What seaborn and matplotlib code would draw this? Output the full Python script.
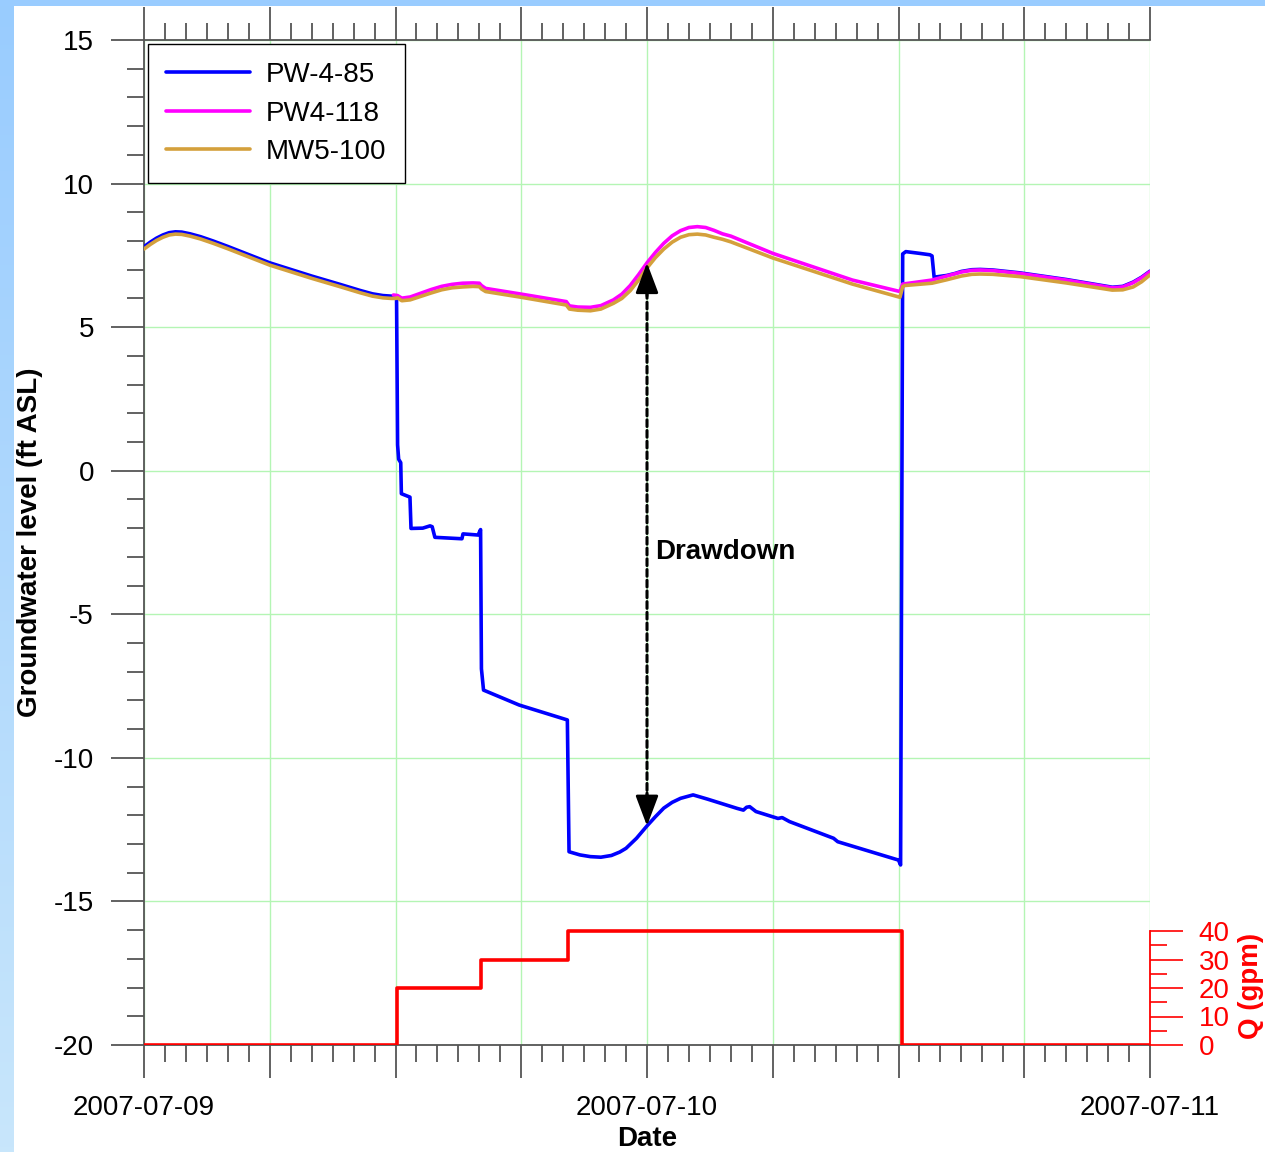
import numpy as np
import pandas as pd
import matplotlib
matplotlib.use("Agg")
import matplotlib.pyplot as plt
import matplotlib.dates as mdates
from matplotlib.ticker import MultipleLocator, FuncFormatter
from matplotlib.patches import Rectangle
import seaborn as sns

# ---------------- data (hours after 2007-07-09 00:00) ----------------
pw485_hours = [0, 0.3, 0.6, 0.9, 1.2, 1.5, 1.8, 2.2, 2.7, 3.3, 4.0, 6.0, 8.0, 9.35, 10.3, 10.9,
               11.4, 11.8, 12.0, 12.05, 12.10, 12.15,
               12.25, 12.28, 12.69, 12.74, 13.3, 13.65, 13.75, 13.88, 15.17, 15.22, 15.94,
               16.06, 16.10, 16.20, 17.9, 20.2, 20.28, 20.8, 21.3, 21.8, 22.3, 22.7, 23.0, 23.5,
               24.0, 24.4, 24.8, 25.2, 25.6, 26.2, 26.9, 28.3, 28.6, 28.75, 28.9, 29.2, 30.25,
               30.45, 30.8, 32.9, 33.1, 36.0, 36.1, 36.2, 36.35, 37.0, 37.5, 37.6, 37.7, 38.3,
               38.7, 39.0, 39.5, 39.9, 40.5, 41.8, 44.0, 46.2, 46.7, 47.2, 47.6, 48.0]
pw485_level = [7.80, 7.96, 8.10, 8.21, 8.29, 8.32, 8.31, 8.25, 8.15, 8.00, 7.81, 7.24, 6.78, 6.49, 6.28, 6.16,
               6.10, 6.08, 6.08, 6.05, 0.90, 0.40,
               0.28, -0.80, -0.92, -2.01, -2.00, -1.92, -1.95, -2.32, -2.37, -2.20, -2.24,
               -2.05, -6.90, -7.64, -8.16, -8.68, -13.27, -13.38, -13.44, -13.46, -13.40, -13.28, -13.15, -12.80,
               -12.37, -12.05, -11.75, -11.55, -11.41, -11.29, -11.44, -11.76, -11.82, -11.72, -11.70, -11.87, -12.11,
               -12.08, -12.22, -12.80, -12.92, -13.56, -13.73, 7.55, 7.63, 7.57, 7.52, 7.48, 6.74, 6.80,
               6.87, 6.94, 7.00, 7.01, 6.99, 6.89, 6.66, 6.39, 6.42, 6.57, 6.74, 6.95]

pw4118_hours = [11.9, 12.1, 12.3, 12.7, 13.2, 13.7, 14.2, 14.7, 15.2, 15.7, 16.0, 16.1, 16.3, 18.0,
                20.15, 20.3, 20.7, 21.3, 21.8, 22.4, 22.8, 23.2, 23.6, 24.0, 24.4, 24.8, 25.2, 25.6,
                26.0, 26.4, 26.8, 27.2, 27.6, 28.0, 30.0, 33.8, 36.07, 36.2, 37.6, 38.3, 39.0,
                39.5, 39.9, 40.5, 41.8, 44.0, 46.2, 46.7, 47.2, 47.6, 48.0]
pw4118_level = [6.12, 6.10, 6.01, 6.05, 6.18, 6.31, 6.42, 6.49, 6.53, 6.54, 6.53, 6.45, 6.35, 6.15,
                5.89, 5.74, 5.70, 5.69, 5.75, 5.95, 6.15, 6.45, 6.83, 7.24, 7.60, 7.92, 8.18, 8.36,
                8.47, 8.50, 8.47, 8.37, 8.25, 8.17, 7.57, 6.64, 6.24, 6.50, 6.64, 6.78, 6.92,
                6.98, 6.99, 6.97, 6.87, 6.64, 6.37, 6.40, 6.55, 6.72, 6.93]

mw5100_hours = [0, 0.3, 0.6, 0.9, 1.2, 1.5, 1.8, 2.2, 2.7, 3.3, 4.0, 6.0, 8.0, 9.35, 10.3, 10.9,
                11.4, 11.8, 12.0, 12.1, 12.3, 12.7, 13.2, 13.7, 14.2, 14.7, 15.2, 15.7, 16.0, 16.1,
                16.3, 18.0, 20.15, 20.3, 20.7, 21.3, 21.8, 22.4, 22.8, 23.2, 23.6, 24.0, 24.4,
                24.8, 25.2, 25.6, 26.0, 26.4, 26.8, 27.2, 27.6, 28.0, 30.0, 33.8, 36.07, 36.2,
                36.3, 37.6, 38.3, 39.0, 39.5, 39.9, 40.5, 41.8, 44.0, 46.2, 46.7, 47.2, 47.6, 48.0]
mw5100_level = [7.72, 7.88, 8.02, 8.13, 8.21, 8.24, 8.23, 8.17, 8.07, 7.92, 7.73, 7.16, 6.70, 6.41, 6.20, 6.08,
                6.02, 6.00, 6.00, 6.02, 5.92, 5.95, 6.07, 6.19, 6.30, 6.37, 6.40, 6.42, 6.41, 6.33,
                6.24, 6.04, 5.77, 5.63, 5.59, 5.57, 5.63, 5.83, 6.00, 6.27, 6.64, 7.06, 7.42,
                7.72, 7.96, 8.13, 8.22, 8.24, 8.21, 8.13, 8.06, 7.97, 7.41, 6.50, 6.04, 6.41,
                6.45, 6.53, 6.65, 6.78, 6.84, 6.85, 6.84, 6.76, 6.54, 6.29, 6.30, 6.40, 6.58, 6.82]

q_hours = [0, 12.07, 16.08, 20.23, 36.17, 48.0]
q_gpm = [0, 20, 30, 40, 0, 0]

series_names = ["PW-4-85", "PW4-118", "MW5-100"]
series_colors = ["#0000ff", "#ff00ff", "#d4a03c"]

drawdown_hour = 24.0
drawdown_label = "Drawdown"

start = pd.Timestamp("2007-07-09 00:00")


def to_time(hours):
    return start + pd.to_timedelta(np.asarray(hours, dtype=float), unit="h")


# ---------------- figure ----------------
sns.set_style("white")
plt.rcParams["font.family"] = ["Liberation Sans", "DejaVu Sans"]
plt.rcParams["axes.unicode_minus"] = False
plt.rcParams["text.color"] = "black"
plt.rcParams["axes.labelcolor"] = "black"

W, H = 1265, 1152
fig = plt.figure(figsize=(W / 100, H / 100), dpi=100)

# light-blue frame decoration
strip_ax = fig.add_axes([0, 0, 14 / W, 1])
grad = np.linspace(0, 1, 256).reshape(-1, 1)
top_c = np.array([153, 204, 255]) / 255
bot_c = np.array([200, 230, 251]) / 255
img = top_c[None, None, :] * (1 - grad[:, :, None]) + bot_c[None, None, :] * grad[:, :, None]
strip_ax.imshow(img, aspect="auto", extent=[0, 1, 0, 1])
strip_ax.set_axis_off()
fig.patches.append(Rectangle((0, 1 - 6 / H), 1, 6 / H, transform=fig.transFigure,
                             facecolor="#99ccff", edgecolor="none", zorder=0))

ax = fig.add_axes([144 / W, 1 - 1045 / H, (1150 - 144) / W, (1045 - 40) / H])
ax.set_facecolor("white")

hours_list = [pw485_hours, pw4118_hours, mw5100_hours]
level_list = [pw485_level, pw4118_level, mw5100_level]
for name, col, hh, lv in zip(series_names, series_colors, hours_list, level_list):
    df = pd.DataFrame({"time": to_time(hh), "level": lv})
    sns.lineplot(data=df, x="time", y="level", ax=ax, color=col, lw=2.6,
                 label=name, sort=False, estimator=None, zorder=3)

ax.set_xlim(start, start + pd.Timedelta(hours=48))
ax.set_ylim(-20, 15)

grid_c = "#b4f5b4"
spine_c = "#555555"
ax.yaxis.set_major_locator(MultipleLocator(5))
ax.yaxis.set_minor_locator(MultipleLocator(1))
ax.xaxis.set_major_locator(mdates.HourLocator(byhour=[0, 6, 12, 18]))
ax.xaxis.set_minor_locator(mdates.HourLocator(interval=1))


def date_fmt(x, pos):
    d = mdates.num2date(x)
    d = (pd.Timestamp(d).tz_localize(None)).round("min")
    return d.strftime("%Y-%m-%d") if (d.hour == 0 and d.minute == 0) else ""


ax.xaxis.set_major_formatter(FuncFormatter(date_fmt))
ax.grid(True, which="major", color=grid_c, lw=1.0, zorder=0)
ax.set_axisbelow(True)

ax.tick_params(axis="both", which="major", direction="out", length=24, width=1.3,
               color=spine_c, labelsize=20, labelcolor="black")
ax.tick_params(axis="both", which="minor", direction="out", length=12, width=1.3, color=spine_c)
ax.tick_params(axis="x", which="both", top=True, bottom=True, labeltop=False, pad=12)
ax.tick_params(axis="y", which="both", left=True, right=False, pad=12)

for side in ["left", "top", "bottom"]:
    ax.spines[side].set_color(spine_c)
    ax.spines[side].set_linewidth(1.3)
ax.spines["right"].set_visible(False)

ax.set_ylabel("Groundwater level (ft ASL)", fontsize=20, fontweight="bold", color="black")
ax.yaxis.set_label_coords(-0.100, 0.5)
ax.set_xlabel("Date", fontsize=20, fontweight="bold", color="black")
ax.xaxis.set_label_coords(0.5, -0.0806)

leg = ax.legend(loc="upper left", fontsize=20, frameon=True, fancybox=False,
                edgecolor="black", framealpha=1, borderaxespad=0.15,
                handlelength=3.0, handletextpad=0.6, borderpad=0.65, labelspacing=0.45)
leg.get_frame().set_linewidth(1.0)
for line in leg.get_lines():
    line.set_linewidth(2.6)
for t in leg.get_texts():
    t.set_color("black")

# drawdown annotation: dashed shaft + two solid arrowheads
top_val = np.interp(drawdown_hour, pw4118_hours, pw4118_level)
bot_val = np.interp(drawdown_hour, pw485_hours, pw485_level)
t_dd = to_time([drawdown_hour])[0]
ax.annotate("", xy=(t_dd, top_val - 0.5), xytext=(t_dd, bot_val + 0.5),
            arrowprops=dict(arrowstyle="-", linestyle=(0, (2.2, 1.3)), lw=2.2,
                            color="black", shrinkA=0, shrinkB=0), zorder=5)
for tip, off in [(top_val, -24), (bot_val, 24)]:
    ax.annotate("", xy=(t_dd, tip), xytext=(0, off), textcoords="offset points",
                arrowprops=dict(arrowstyle="-|>,head_length=0.85,head_width=0.32",
                                mutation_scale=22, lw=2.0, color="black",
                                shrinkA=0, shrinkB=0), zorder=6)
ax.text(to_time([drawdown_hour + 0.4])[0], (top_val + bot_val) / 2 - 0.25, drawdown_label,
        fontsize=20, fontweight="bold", ha="left", va="center", color="black", zorder=5)

# pumping rate on twin axis
ax2 = ax.twinx()
qdf = pd.DataFrame({"time": to_time(q_hours), "q": q_gpm})
sns.lineplot(data=qdf, x="time", y="q", ax=ax2, color="#ff0000", lw=2.6,
             drawstyle="steps-post", sort=False, estimator=None, legend=False)
ax2.set_xlim(start, start + pd.Timedelta(hours=48))
ax2.set_ylim(0, 40 * 1005 / 114)
ax2.set_yticks([t for t in range(0, 41, 10)])
ax2.set_yticks([t for t in range(5, 40, 10)], minor=True)
ax2.yaxis.set_major_formatter(FuncFormatter(lambda v, p: f"{v:.0f}"))
ax2.yaxis.set_minor_formatter(FuncFormatter(lambda v, p: ""))
ax2.tick_params(axis="y", which="major", direction="out", length=24, width=1.2,
                color="#ff0000", labelcolor="#ff0000", labelsize=20, pad=11)
ax2.tick_params(axis="y", which="minor", direction="out", length=12, width=1.2, color="#ff0000")
for side in ["left", "top", "bottom"]:
    ax2.spines[side].set_visible(False)
ax2.spines["right"].set_color("#ff0000")
ax2.spines["right"].set_linewidth(1.3)
ax2.spines["right"].set_bounds(0, 40)
ax2.set_ylabel("Q (gpm)", fontsize=20, fontweight="bold", color="#ff0000")
ax2.yaxis.set_label_coords(1.0875, 0.0587)
ax2.set_xlabel("")

fig.savefig("out.png", dpi=100, facecolor="white")
